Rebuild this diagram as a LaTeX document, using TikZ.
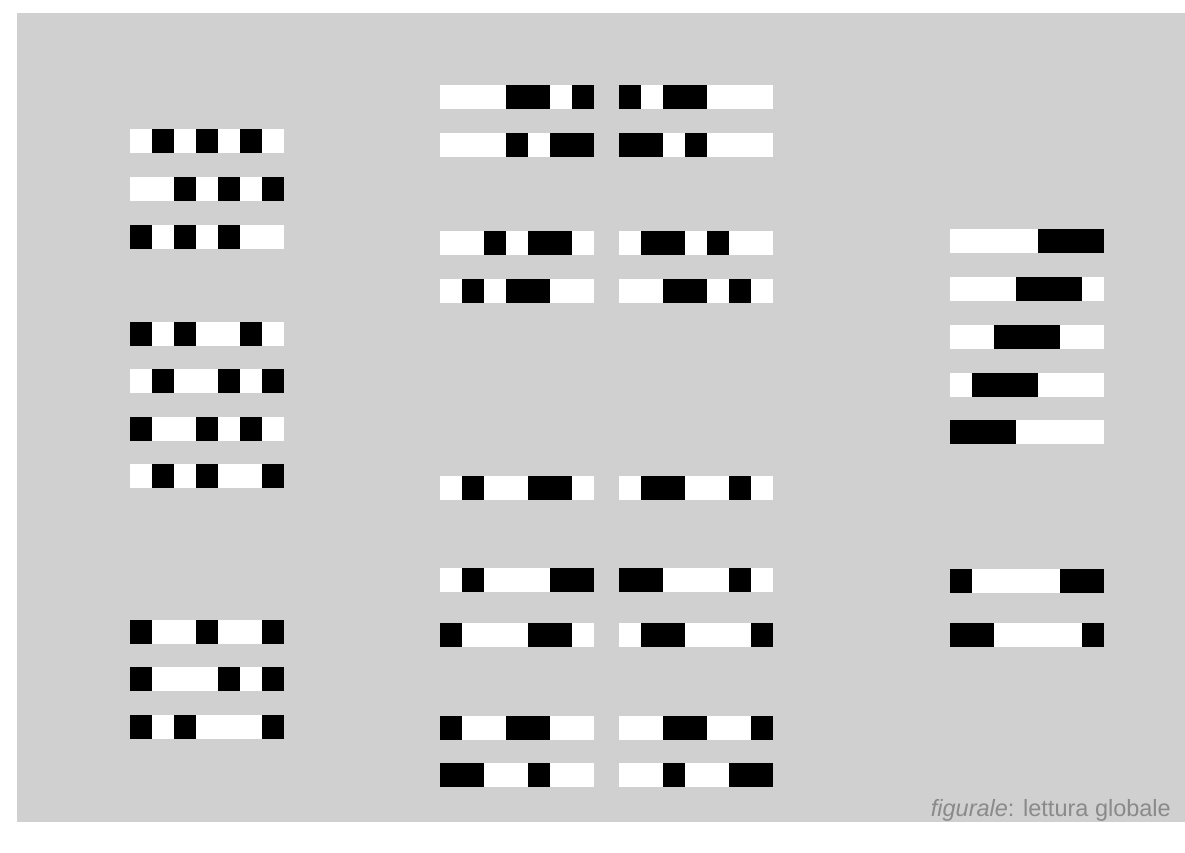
\documentclass[tikz,border=0pt]{standalone}
\usepackage{fontspec}
\setmainfont{Liberation Sans}
\definecolor{bggrey}{HTML}{D0D0D0}
\definecolor{textgrey}{HTML}{8A8A8A}
\tikzset{
  rowstrip/.style={fill=white},
  cellfill0/.style={},
  cellfill1/.style={fill=black},
}
\newcommand\cellrow[3]{%
  \path[rowstrip] (#1,#2) rectangle ({#1+154},{#2+24});
  \foreach \v [count=\i from 0] in {#3} {
    \path[cellfill\v] ({#1+22*\i},#2) rectangle ({#1+22*\i+22},{#2+24});
  }%
}
\begin{document}
\begin{tikzpicture}[x=1pt,y=-1pt]
\useasboundingbox (0,0) rectangle (1185,852);
\fill[bggrey] (17,13) rectangle (1185,822);
% left column
\cellrow{130}{129}{0,1,0,1,0,1,0}
\cellrow{130}{177}{0,0,1,0,1,0,1}
\cellrow{130}{225}{1,0,1,0,1,0,0}
\cellrow{130}{322}{1,0,1,0,0,1,0}
\cellrow{130}{369}{0,1,0,0,1,0,1}
\cellrow{130}{417}{1,0,0,1,0,1,0}
\cellrow{130}{464}{0,1,0,1,0,0,1}
\cellrow{130}{620}{1,0,0,1,0,0,1}
\cellrow{130}{667}{1,0,0,0,1,0,1}
\cellrow{130}{715}{1,0,1,0,0,0,1}
% middle column, left blocks
\cellrow{440}{85}{0,0,0,1,1,0,1}
\cellrow{440}{133}{0,0,0,1,0,1,1}
\cellrow{440}{231}{0,0,1,0,1,1,0}
\cellrow{440}{279}{0,1,0,1,1,0,0}
\cellrow{440}{476}{0,1,0,0,1,1,0}
\cellrow{440}{568}{0,1,0,0,0,1,1}
\cellrow{440}{623}{1,0,0,0,1,1,0}
\cellrow{440}{716}{1,0,0,1,1,0,0}
\cellrow{440}{763}{1,1,0,0,1,0,0}
% middle column, right blocks
\cellrow{619}{85}{1,0,1,1,0,0,0}
\cellrow{619}{133}{1,1,0,1,0,0,0}
\cellrow{619}{231}{0,1,1,0,1,0,0}
\cellrow{619}{279}{0,0,1,1,0,1,0}
\cellrow{619}{476}{0,1,1,0,0,1,0}
\cellrow{619}{568}{1,1,0,0,0,1,0}
\cellrow{619}{623}{0,1,1,0,0,0,1}
\cellrow{619}{716}{0,0,1,1,0,0,1}
\cellrow{619}{763}{0,0,1,0,0,1,1}
% right column
\cellrow{950}{229}{0,0,0,0,1,1,1}
\cellrow{950}{277}{0,0,0,1,1,1,0}
\cellrow{950}{325}{0,0,1,1,1,0,0}
\cellrow{950}{373}{0,1,1,1,0,0,0}
\cellrow{950}{420}{1,1,1,0,0,0,0}
\cellrow{950}{569}{1,0,0,0,0,1,1}
\cellrow{950}{623}{1,1,0,0,0,0,1}
% caption
\node[anchor=base east, inner sep=0pt, text=textgrey, font=\fontsize{23.5}{28}\selectfont] (caption) at (1171,816.7) {\textit{figurale}: lettura globale};
\end{tikzpicture}
\end{document}
